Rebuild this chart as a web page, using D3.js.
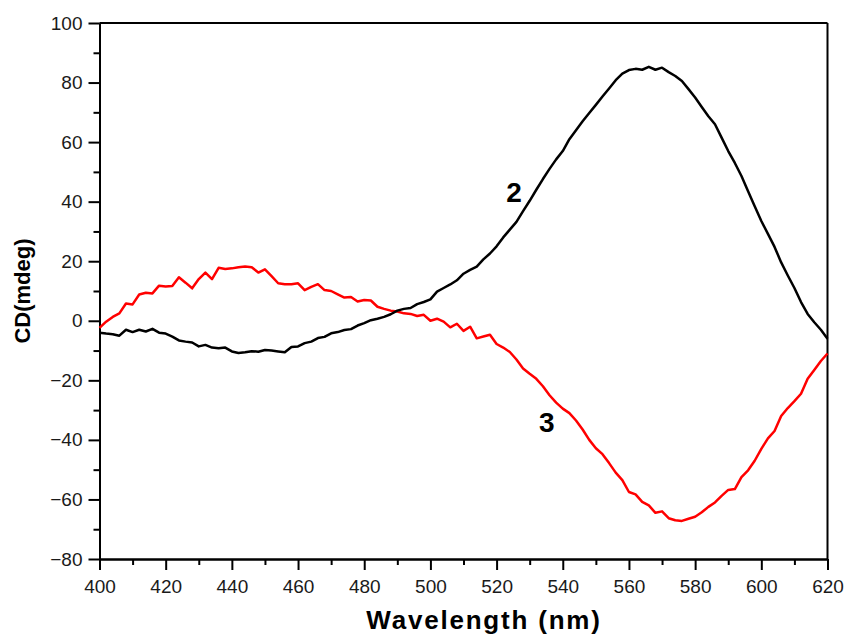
<!DOCTYPE html>
<html>
<head>
<meta charset="utf-8">
<script src="https://cdn.jsdelivr.net/npm/d3@7"></script>
<style>
  body { margin: 0; background: #fff; }
  text { font-family: Arial, "Liberation Sans", sans-serif; }
</style>
</head>
<body>
<div id="chart"></div>
<script>
// Data, 2 nm steps from 400 to 620
const wavelengths = d3.range(400, 621, 2);

const series2 = [
  -4.0, -4.3, -4.5, -5.0, -3.0, -3.8, -3.0, -3.6, -2.7, -4.0,
  -4.3, -5.3, -6.6, -7.0, -7.3, -8.6, -8.1, -9.0, -9.2, -9.0,
  -10.3, -10.8, -10.6, -10.2, -10.4, -9.8, -10.0, -10.3, -10.6, -8.8,
  -8.6, -7.5, -7.0, -5.8, -5.4, -4.2, -3.8, -3.1, -2.8, -1.6,
  -0.8, 0.2, 0.7, 1.3, 2.2, 3.4, 4.0, 4.3, 5.6, 6.3,
  7.2, 9.8, 11.0, 12.2, 13.6, 15.8, 17.1, 18.2, 20.6, 22.6,
  25.0, 28.0, 30.6, 33.2, 36.8, 40.3, 44.0, 47.6, 51.0, 54.2,
  57.0, 61.0, 64.0, 67.0, 69.8, 72.5, 75.3, 78.0, 80.8, 83.0,
  84.2, 84.6, 84.3, 85.3, 84.3, 85.0, 83.5, 82.2, 80.5, 77.8,
  75.0, 71.8, 68.7, 66.0, 61.5, 57.0, 53.0, 48.6, 43.5, 38.5,
  33.5, 29.2, 24.8, 19.6, 15.2, 11.0, 6.3, 2.3, -0.5, -3.0,
  -6.0
];

const series3 = [
  -2.4, -0.3, 1.3, 2.5, 5.8, 5.5, 8.8, 9.4, 9.2, 11.8,
  11.5, 11.7, 14.6, 12.8, 10.9, 14.0, 16.2, 14.0, 17.8, 17.4,
  17.6, 18.0, 18.2, 18.0, 16.2, 17.3, 15.0, 12.6, 12.3, 12.3,
  12.6, 10.3, 11.4, 12.3, 10.3, 10.0, 8.9, 7.8, 8.0, 6.5,
  7.0, 6.8, 4.7, 4.0, 3.4, 3.1, 2.5, 2.3, 1.6, 2.0,
  0.0, 0.7, -0.3, -2.2, -1.0, -3.4, -2.0, -5.9, -5.3, -4.7,
  -7.8, -9.0, -10.5, -13.0, -16.0, -17.8, -19.5, -22.0, -25.0, -27.5,
  -29.5, -31.0, -33.5, -36.5, -40.0, -42.8, -44.8, -47.8, -51.0, -53.5,
  -57.5, -58.3, -60.8, -62.0, -64.5, -64.0, -66.3, -67.0, -67.2, -66.5,
  -65.8, -64.3, -62.5, -61.0, -58.8, -56.8, -56.5, -52.5, -50.2, -47.0,
  -43.0, -39.5, -37.0, -32.0, -29.3, -27.0, -24.5, -19.5, -16.5, -13.5,
  -11.0
];

const xTicks = d3.range(400, 621, 20);
const yTicks = d3.range(-80, 101, 20);
const xMinorTicks = d3.range(410, 620, 20);
const yMinorTicks = d3.range(-70, 100, 20);

const curveLabels = [
  { text: "2", x: 525.3, y: 43, color: "#000" },
  { text: "3", x: 535.2, y: -34, color: "#000" }
];

const width = 847;
const height = 634;
const margin = { top: 23, right: 19.5, bottom: 75, left: 99.5 };

const svg = d3
  .select("#chart")
  .append("svg")
  .attr("width", width)
  .attr("height", height);

const xScale = d3
  .scaleLinear()
  .domain([400, 620])
  .range([margin.left, width - margin.right]);

const yScale = d3
  .scaleLinear()
  .domain([-80, 100])
  .range([height - margin.bottom, margin.top]);

// Axes

svg
  .append("g")
  .attr("transform", `translate(0, ${height - margin.bottom})`)
  .call(d3.axisBottom(xScale).tickValues(xTicks).tickSize(11).tickPadding(10).tickSizeOuter(0));

svg
  .append("g")
  .attr("transform", `translate(0, ${height - margin.bottom})`)
  .call(d3.axisBottom(xScale).tickValues(xMinorTicks).tickSize(6).tickFormat("").tickSizeOuter(0));

svg
  .append("g")
  .attr("transform", `translate(${margin.left}, 0)`)
  .call(d3.axisLeft(yScale).tickValues(yTicks).tickSize(11).tickPadding(6).tickSizeOuter(0));

svg
  .append("g")
  .attr("transform", `translate(${margin.left}, 0)`)
  .call(d3.axisLeft(yScale).tickValues(yMinorTicks).tickSize(6).tickFormat("").tickSizeOuter(0));

svg.selectAll(".domain").attr("stroke", "#000").attr("stroke-width", 2);
svg.selectAll(".tick line").attr("stroke", "#000").attr("stroke-width", 2);
svg
  .selectAll(".tick text")
  .attr("fill", "#1a1a1a")
  .style("font-size", "19px");

// top and right frame
svg
  .append("line")
  .attr("x1", xScale(400))
  .attr("x2", xScale(620))
  .attr("y1", yScale(100))
  .attr("y2", yScale(100))
  .attr("stroke", "#000")
  .attr("stroke-width", 2);

svg
  .append("line")
  .attr("x1", xScale(620))
  .attr("x2", xScale(620))
  .attr("y1", yScale(100))
  .attr("y2", yScale(-80))
  .attr("stroke", "#000")
  .attr("stroke-width", 2);

// Curves

const line = d3
  .line()
  .x(function (d) {
    return xScale(d[0]);
  })
  .y(function (d) {
    return yScale(d[1]);
  });

svg
  .append("path")
  .datum(d3.zip(wavelengths, series3))
  .attr("fill", "none")
  .attr("stroke", "#ff0000")
  .attr("stroke-width", 2.5)
  .attr("stroke-linejoin", "round")
  .attr("d", line);

svg
  .append("path")
  .datum(d3.zip(wavelengths, series2))
  .attr("fill", "none")
  .attr("stroke", "#000")
  .attr("stroke-width", 2.5)
  .attr("stroke-linejoin", "round")
  .attr("d", line);

svg
  .selectAll(".curve-label")
  .data(curveLabels)
  .enter()
  .append("text")
  .attr("class", "curve-label")
  .attr("x", function (d) {
    return xScale(d.x);
  })
  .attr("y", function (d) {
    return yScale(d.y);
  })
  .attr("text-anchor", "middle")
  .attr("dominant-baseline", "central")
  .style("font-size", "28px")
  .style("font-weight", "bold")
  .attr("fill", function (d) {
    return d.color;
  })
  .text(function (d) {
    return d.text;
  });

// Axis titles

svg
  .append("text")
  .attr("x", 484)
  .attr("y", 629)
  .attr("text-anchor", "middle")
  .style("font-size", "26px")
  .style("font-weight", "bold")
  .style("letter-spacing", "1.8px")
  .text("Wavelength (nm)");

svg
  .append("text")
  .attr("x", -(margin.top + height - margin.bottom) / 2)
  .attr("y", 30)
  .attr("transform", "rotate(-90)")
  .attr("text-anchor", "middle")
  .style("font-size", "22px")
  .style("font-weight", "bold")
  .text("CD(mdeg)");
</script>
</body>
</html>
